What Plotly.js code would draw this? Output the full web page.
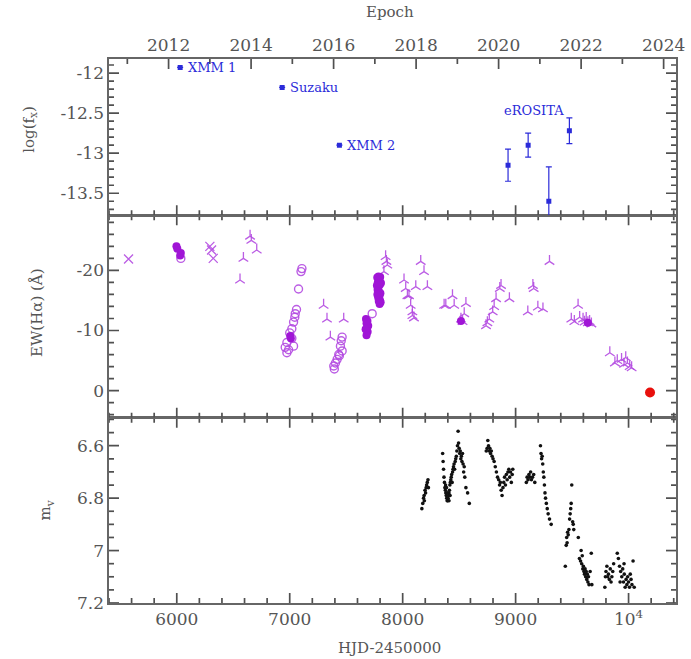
<!DOCTYPE html>
<html>
<head>
<meta charset="utf-8">
<script src="https://cdn.plot.ly/plotly-3.0.1.min.js"></script>
<style>html,body{margin:0;padding:0;background:#fff;}#chart{width:691px;height:659px;}</style>
</head>
<body>
<div id="chart"></div>
<script>
// ---------- Top panel: X-ray flux ----------
const xrayHjd   = [6030, 6933, 7440, 8933, 9111, 9294, 9476];
const xrayLogF  = [-11.93, -12.18, -12.90, -13.15, -12.90, -13.60, -12.72];
const xrayErr   = [0, 0, 0, 0.20, 0.15, 0.43, 0.16];
const xrayLabelText = ['XMM 1', 'Suzaku', 'XMM 2', 'eROSITA'];
const xrayLabelHjd  = [6030, 6933, 7440, 9160];
const xrayLabelLogF = [-11.93, -12.18, -12.90, -12.47];

// ---------- Middle panel: EW(Halpha) ----------
const crossHjd = [5573, 6293, 6308, 6323];
const crossEw  = [-21.9, -24.0, -23.4, -22.0];

const filledHjd = [5997, 6005, 6036, 6030, 7004, 7010,
  7675, 7680, 7685, 7690, 7680, 7695, 7688, 7672,
  7775, 7780, 7785, 7790, 7795, 7800, 7805, 7778, 7783, 7788, 7793, 7798, 7803, 7808, 7772, 7776, 7786, 7796, 7801, 7790,
  8516, 9640];
const filledEw  = [-24.0, -23.6, -22.9, -22.5, -9.1, -8.7,
  -11.9, -11.2, -10.5, -9.8, -9.2, -10.8, -11.6, -10.2,
  -18.8, -18.0, -17.2, -16.5, -15.8, -15.0, -14.7, -16.8, -15.5, -14.9, -18.5, -17.6, -16.2, -17.9, -17.5, -16.0, -19.0, -14.4, -18.9, -17.8,
  -11.6, -11.3];

const openHjd = [6036, 7108, 7100, 7078, 7049, 7045, 7034, 7019, 6975, 6960, 6975, 6990, 7034, 7019, 7060, 7000,
  7390, 7405, 7420, 7434, 7449, 7464, 7464, 7440, 7395, 7456, 7730];
const openEw  = [-22.0, -20.3, -19.8, -16.9, -12.8, -12.2, -11.4, -10.3, -8.0, -7.2, -6.3, -6.8, -7.4, -8.7, -13.5, -9.6,
  -4.1, -4.6, -5.2, -6.0, -7.4, -6.6, -8.9, -5.8, -3.6, -8.3, -12.8];

const triHjd = [6560, 6590, 6649, 6660, 6708,
  7300, 7330, 7360, 7478,
  7834, 7849, 7856, 7864,
  8012, 8027, 8042, 8056, 8071, 8086, 8086, 8100, 8116, 8160, 8189, 8219,
  8367, 8382, 8441, 8456, 8516, 8530, 8545, 8560,
  8738, 8750, 8767, 8797, 8810, 8827, 8860, 8871, 8945,
  9108, 9153, 9160, 9197, 9242, 9300,
  9493, 9520, 9553, 9567, 9597, 9610, 9625, 9640, 9655, 9671,
  9834, 9879, 9900, 9938, 9960, 9975, 9990, 10010, 10027];
const triEw  = [-18.4, -22.0, -25.7, -25.0, -23.4,
  -14.2, -11.9, -8.9, -11.9,
  -19.8, -22.3, -21.5, -20.9,
  -18.4, -17.0, -15.8, -15.8, -14.2, -12.5, -13.1, -12.1, -17.3, -21.5, -19.8, -17.3,
  -14.2, -14.2, -15.8, -14.2, -11.9, -11.5, -12.8, -14.5,
  -10.8, -11.3, -11.9, -13.1, -14.0, -15.3, -17.0, -17.5, -15.3,
  -13.1, -17.5, -17.0, -13.9, -13.6, -21.5,
  -11.9, -11.5, -14.2, -12.2, -11.9, -11.4, -12.0, -11.3, -11.5, -11.1,
  -6.3, -4.6, -5.0, -5.2, -4.4, -5.5, -4.6, -4.0, -3.8];

const recentHjd = [10190];
const recentEw  = [0.3];

// ---------- Bottom panel: V magnitude ----------
const magHjd = [8170, 8178, 8185, 8190, 8192, 8198, 8203, 8208, 8212, 8218, 8224, 8228,
  8354, 8358, 8362, 8366, 8370, 8374, 8378, 8382, 8386, 8390, 8394, 8398, 8402, 8406, 8410, 8414, 8418, 8422, 8426, 8430, 8434, 8438, 8442, 8446, 8450, 8455, 8460, 8465, 8470, 8475, 8480, 8485, 8491, 8495, 8500, 8505, 8510, 8515, 8520, 8525, 8530, 8535, 8540, 8545, 8550, 8560, 8575, 8590, 8380, 8395, 8410, 8388, 8420,
  8740, 8748, 8754, 8760, 8766, 8772, 8778, 8785, 8792, 8800, 8810, 8820, 8830, 8840, 8850, 8858, 8865, 8872, 8880, 8888, 8895, 8902, 8910, 8918, 8925, 8932, 8940, 8948, 8955, 8962, 8970, 8975,
  9095, 9102, 9110, 9118, 9125, 9133, 9140, 9150, 9160, 9170,
  9220, 9225, 9230, 9235, 9240, 9245, 9250, 9255, 9260, 9265, 9272, 9280, 9288, 9300, 9315,
  9440, 9448, 9452, 9456, 9460, 9466, 9472, 9478, 9483, 9488, 9492, 9497, 9505, 9510, 9515,
  9555, 9565, 9575, 9585, 9590, 9595, 9600, 9605, 9610, 9615, 9620, 9625, 9630, 9635, 9640, 9645, 9650, 9660, 9670, 9675, 9580,
  9790, 9795, 9800, 9808, 9815, 9822, 9830, 9838, 9845, 9852, 9860, 9868,
  9900, 9910, 9920, 9930, 9940, 9948, 9955, 9962, 9970, 9978, 9985, 9992, 10000, 10008, 10015, 10022, 10030, 10040, 10050, 9925, 9960];
const magV = [6.84, 6.82, 6.80, 6.79, 6.81, 6.77, 6.78, 6.76, 6.75, 6.74, 6.73, 6.76,
  6.63, 6.66, 6.69, 6.72, 6.74, 6.76, 6.77, 6.78, 6.79, 6.80, 6.81, 6.81, 6.80, 6.79, 6.78, 6.77, 6.75, 6.74, 6.73, 6.72, 6.71, 6.74, 6.70, 6.69, 6.68, 6.67, 6.69, 6.66, 6.65, 6.64, 6.62, 6.60, 6.545, 6.59, 6.61, 6.63, 6.62, 6.65, 6.64, 6.66, 6.63, 6.67, 6.70, 6.68, 6.72, 6.76, 6.78, 6.82, 6.75, 6.78, 6.81, 6.76, 6.79,
  6.62, 6.61, 6.58, 6.60, 6.62, 6.61, 6.63, 6.62, 6.64, 6.65, 6.66, 6.68, 6.70, 6.72, 6.73, 6.75, 6.74, 6.77, 6.79, 6.76, 6.74, 6.72, 6.75, 6.71, 6.73, 6.70, 6.69, 6.72, 6.70, 6.74, 6.71, 6.69,
  6.74, 6.72, 6.73, 6.71, 6.72, 6.70, 6.73, 6.72, 6.71, 6.74,
  6.60, 6.63, 6.65, 6.64, 6.67, 6.70, 6.72, 6.75, 6.78, 6.80, 6.82, 6.84, 6.86, 6.88, 6.90,
  7.06, 6.98, 6.95, 6.97, 6.93, 6.94, 6.92, 6.88, 6.86, 6.84, 6.82, 6.75, 6.89, 6.90, 6.92,
  6.95, 7.03, 7.04, 7.05, 7.02, 7.07, 7.06, 7.08, 7.09, 7.07, 7.10, 7.08, 7.11, 7.09, 7.12, 7.10, 7.13, 7.08, 7.01, 7.13, 7.00,
  7.14, 7.10, 7.08, 7.06, 7.10, 7.09, 7.11, 7.07, 7.12, 7.10, 7.08, 7.05,
  7.01, 7.03, 7.06, 7.08, 7.10, 7.07, 7.12, 7.09, 7.14, 7.11, 7.13, 7.10, 7.12, 7.14, 7.09, 7.11, 7.13, 7.04, 7.14, 7.12, 7.05];

// ---------- Axis ticks ----------
const hjdTickVals  = [6000, 7000, 8000, 9000, 10000];
const hjdTickText  = ['6000', '7000', '8000', '9000', '10<sup>4</sup>'];
const epochTicks   = [2012, 2014, 2016, 2018, 2020, 2022, 2024];
const magTicks     = [6.6, 6.8, 7, 7.2];
const ewTicks      = [-20, -10, 0];
const fluxTicks    = [-13.5, -13, -12.5, -12];
const fluxTickText = ['-13.5', '-13', '-12.5', '-12'];

// ---------- Styling / layout ----------
const WIDTH = 691, HEIGHT = 659, M = {l: 109, r: 15, t: 59, b: 56};
const PW = WIDTH - M.l - M.r, PH = HEIGHT - M.t - M.b;
const HJD_RANGE = [5400, 10420];
const toYear = h => 2012 + (h - 5927.5) / 365.25;
const EPOCH_RANGE = [toYear(HJD_RANGE[0]), toYear(HJD_RANGE[1])];
const MAG_RANGE = [7.2, 6.493], EW_RANGE = [4.5, -29.17], FLUX_RANGE = [-13.775, -11.825];
const DOM = {y: [0, 0.3407], y2: [0.3407, 0.7127], y3: [0.7127, 1]};
const seq = (a, b, s) => { const o = []; for (let i = 0; a + i * s <= b + 1e-9; i++) o.push(+(a + i * s).toFixed(4)); return o; };
const notIn = (arr, majors) => arr.filter(v => !majors.some(m => Math.abs(m - v) < 1e-6));
const FONT = 'DejaVu Serif, Liberation Serif, serif';
const AX = '#666666', TICK = '#505050', TXT = '#555555';
const BLUE = '#2b2bd9', PURPLE = '#a015d6', PURPLE_L = 'rgba(180,75,225,0.9)';

// ---- inside tick marks on every frame edge, as line segments converted from pixel lengths ----
const MAJ = 10, MIN = 5;
function tickTrace(xa, ya, xRange, yRange, hPx, xSpec, ySpec) {
  const X = [], Y = [];
  const dyPx = (yRange[1] - yRange[0]) / hPx, dxPx = (xRange[1] - xRange[0]) / PW;
  xSpec.forEach(([vals, len, top]) => vals.forEach(v => {
    const y0 = top ? yRange[1] : yRange[0];
    X.push(v, v, null); Y.push(y0, y0 + (top ? -1 : 1) * len * dyPx, null);
  }));
  ySpec.forEach(([vals, len, right]) => vals.forEach(v => {
    const x0 = right ? xRange[1] : xRange[0];
    X.push(x0, x0 + (right ? -1 : 1) * len * dxPx, null); Y.push(v, v, null);
  }));
  return {x: X, y: Y, xaxis: xa, yaxis: ya, type: 'scatter', mode: 'lines', connectgaps: false,
    line: {color: TICK, width: 1.7}, hoverinfo: 'skip', cliponaxis: false};
}
const hjdMinor = notIn(seq(5400, 10400, 200), hjdTickVals);
const hpx = k => (DOM[k][1] - DOM[k][0]) * PH;
const xBoth = [[hjdTickVals, MAJ, false], [hjdMinor, MIN, false], [hjdTickVals, MAJ, true], [hjdMinor, MIN, true]];
const yBoth = (maj, min) => [[maj, MAJ, false], [notIn(min, maj), MIN, false], [maj, MAJ, true], [notIn(min, maj), MIN, true]];
const tickTraces = [
  tickTrace('x', 'y', HJD_RANGE, MAG_RANGE, hpx('y'), xBoth, yBoth(magTicks, seq(6.5, 7.2, 0.05))),
  tickTrace('x2', 'y2', HJD_RANGE, EW_RANGE, hpx('y2'), xBoth, yBoth(ewTicks, seq(-28, 4, 2))),
  tickTrace('x3', 'y3', HJD_RANGE, FLUX_RANGE, hpx('y3'), [[hjdTickVals, MAJ, false], [hjdMinor, MIN, false]],
    yBoth(fluxTicks, seq(-13.7, -11.9, 0.1))),
  tickTrace('x4', 'y3', EPOCH_RANGE, FLUX_RANGE, hpx('y3'),
    [[epochTicks, MAJ, true], [notIn(seq(2011, 2024, 1), epochTicks), MIN, true]], [])
];

const traces = tickTraces.concat([
  {x: xrayHjd, y: xrayLogF, xaxis: 'x3', yaxis: 'y3', type: 'scatter', mode: 'markers',
   marker: {symbol: 'square', size: 5, color: BLUE},
   error_y: {type: 'data', array: xrayErr, visible: true, color: BLUE, thickness: 1.2, width: 3}},
  {x: crossHjd, y: crossEw, xaxis: 'x2', yaxis: 'y2', type: 'scatter', mode: 'markers',
   marker: {symbol: 'x-thin-open', size: 9, color: PURPLE_L, line: {color: PURPLE_L, width: 1.3}}},
  {x: triHjd, y: triEw, xaxis: 'x2', yaxis: 'y2', type: 'scatter', mode: 'markers',
   marker: {symbol: 'y-up-open', size: 8, color: PURPLE_L, line: {color: PURPLE_L, width: 1.3}}},
  {x: openHjd, y: openEw, xaxis: 'x2', yaxis: 'y2', type: 'scatter', mode: 'markers',
   marker: {symbol: 'circle-open', size: 8, color: PURPLE_L, line: {color: PURPLE_L, width: 1.4}}},
  {x: filledHjd, y: filledEw, xaxis: 'x2', yaxis: 'y2', type: 'scatter', mode: 'markers',
   marker: {symbol: 'circle', size: 8, color: PURPLE}},
  {x: recentHjd, y: recentEw, xaxis: 'x2', yaxis: 'y2', type: 'scatter', mode: 'markers',
   marker: {symbol: 'circle', size: 10, color: '#e8100c'}},
  {x: magHjd, y: magV, xaxis: 'x', yaxis: 'y', type: 'scatter', mode: 'markers',
   marker: {symbol: 'circle', size: 3.6, color: '#111111'}}
]);

const tickFont = {family: FONT, size: 17, color: TXT};
const baseAxis = {
  showgrid: false, zeroline: false, showline: true, linecolor: AX, linewidth: 1.6,
  ticks: '', mirror: true, tickfont: tickFont
};
const xBase = Object.assign({}, baseAxis, {range: HJD_RANGE,
  tickmode: 'array', tickvals: hjdTickVals, ticktext: hjdTickText});

const titleFont = {family: FONT, size: 15, color: TXT};
const layout = {
  width: WIDTH, height: HEIGHT,
  margin: M,
  paper_bgcolor: '#ffffff', plot_bgcolor: '#ffffff',
  showlegend: false,
  font: {family: FONT, color: TXT},
  xaxis: Object.assign({}, xBase, {anchor: 'y'}),
  xaxis2: Object.assign({}, xBase, {anchor: 'y2', showticklabels: false}),
  xaxis3: Object.assign({}, xBase, {anchor: 'y3', showticklabels: false}),
  xaxis4: Object.assign({}, baseAxis, {anchor: 'y3', overlaying: 'x3', side: 'top', mirror: false,
    range: EPOCH_RANGE, tickmode: 'array', tickvals: epochTicks, ticktext: epochTicks.map(String)}),
  yaxis: Object.assign({}, baseAxis, {domain: DOM.y, anchor: 'x', range: MAG_RANGE,
    tickmode: 'array', tickvals: magTicks, ticktext: magTicks.map(String)}),
  yaxis2: Object.assign({}, baseAxis, {domain: DOM.y2, anchor: 'x2', range: EW_RANGE,
    tickmode: 'array', tickvals: ewTicks, ticktext: ewTicks.map(String)}),
  yaxis3: Object.assign({}, baseAxis, {domain: DOM.y3, anchor: 'x3', range: FLUX_RANGE,
    tickmode: 'array', tickvals: fluxTicks, ticktext: fluxTickText}),
  annotations: xrayLabelText.map((t, i) => ({
    x: xrayLabelHjd[i], y: xrayLabelLogF[i], xref: 'x3', yref: 'y3',
    text: t, showarrow: false, xanchor: i < 3 ? 'left' : 'center', xshift: i < 3 ? 6 : 0,
    font: {family: FONT, size: 13, color: BLUE}
  })).concat([
    {text: 'Epoch', xref: 'paper', yref: 'paper', x: 0.495, y: 1, yshift: 47, xanchor: 'center', yanchor: 'middle', showarrow: false, font: titleFont},
    {text: 'HJD-2450000', xref: 'paper', yref: 'paper', x: 0.495, y: 0, yshift: -45, xanchor: 'center', yanchor: 'middle', showarrow: false, font: titleFont},
    {text: 'log(f<sub>x</sub>)', xref: 'paper', yref: 'paper', x: 0, xshift: -79, y: 0.87, xanchor: 'center', yanchor: 'middle', textangle: -90, showarrow: false, font: titleFont},
    {text: 'EW(Hα) (Å)', xref: 'paper', yref: 'paper', x: 0, xshift: -72, y: 0.533, xanchor: 'center', yanchor: 'middle', textangle: -90, showarrow: false, font: titleFont},
    {text: 'm<sub>v</sub>', xref: 'paper', yref: 'paper', x: 0, xshift: -63, y: 0.17, xanchor: 'center', yanchor: 'middle', textangle: -90, showarrow: false, font: titleFont}
  ])
};

Plotly.newPlot('chart', traces, layout, {displayModeBar: false, staticPlot: true});
</script>
</body>
</html>
